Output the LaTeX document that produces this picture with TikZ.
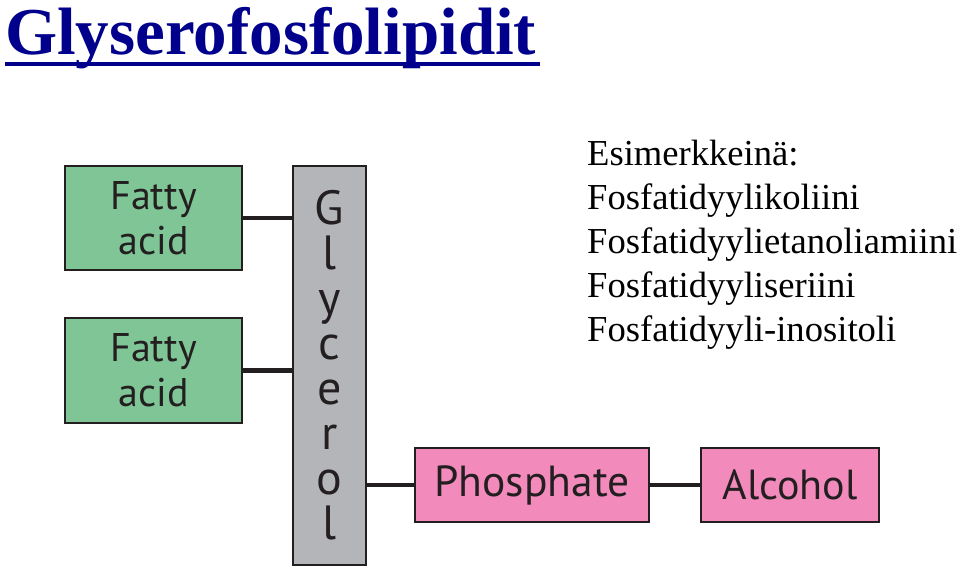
\documentclass[tikz,border=0pt]{standalone}
\usepackage{fontspec}
\setmainfont{Liberation Serif}
\newfontfamily\boxfont{PT Sans}
\usetikzlibrary{positioning}
\definecolor{titleblue}{RGB}{0,0,140}
\definecolor{acidgreen}{RGB}{127,197,150}
\definecolor{glygray}{RGB}{180,181,184}
\definecolor{phospink}{RGB}{242,138,188}
\definecolor{inkdark}{RGB}{35,31,32}

\begin{document}
\begin{tikzpicture}[
  x=1pt,y=-1pt,
  part/.style={draw=inkdark,line width=1.4pt,inner sep=0pt,align=center,text=inkdark},
  bond/.style={line width=4.5pt,inkdark}
]
  \useasboundingbox (0,0) rectangle (959,568);

  \node[anchor=base west,inner sep=0pt,text=titleblue,font=\fontsize{67}{67}\selectfont\bfseries] (title) at (5,54) {Glyserofosfolipidit};
  \fill[titleblue] (title.base west) ++(0,8) rectangle ++(535,4);

  \node[part,fill=acidgreen,minimum width=177pt,minimum height=104pt,font=\boxfont\fontsize{40}{45}\selectfont] (acid1) at (153.5,218) {Fatty\\acid};
  \node[part,fill=acidgreen,minimum width=177pt,minimum height=105pt,font=\boxfont\fontsize{40}{45}\selectfont] (acid2) at (153.5,370.5) {Fatty\\acid};
  \node[part,fill=glygray,minimum width=73pt,minimum height=399pt,font=\boxfont\fontsize{48}{45}\selectfont] (glycerol) at (329.5,365.5) {G\\l\\y\\c\\e\\r\\o\\l};
  \node[part,fill=phospink,minimum width=234pt,minimum height=74pt,font=\boxfont\fontsize{43.5}{43.5}\selectfont] (phosphate) at (532,485) {Phosphate};
  \node[part,fill=phospink,minimum width=178pt,minimum height=74pt,font=\boxfont\fontsize{42}{42}\selectfont] (alcohol) at (790,485) {Alcohol};

  \draw[bond] (acid1.east) -- (acid1.east -| glycerol.west);
  \draw[bond] (acid2.east) -- (acid2.east -| glycerol.west);
  \draw[bond] (phosphate.west -| glycerol.east) -- (phosphate.west);
  \draw[bond] (phosphate.east) -- (alcohol.west);

  \node[anchor=north west,inner sep=0pt,align=left,font=\fontsize{36.6}{44}\selectfont] (examples) at (587,140)
    {Esimerkkeinä:\\Fosfatidyylikoliini\\Fosfatidyylietanoliamiini\\Fosfatidyyliseriini\\Fosfatidyyli-inositoli};
\end{tikzpicture}
\end{document}
